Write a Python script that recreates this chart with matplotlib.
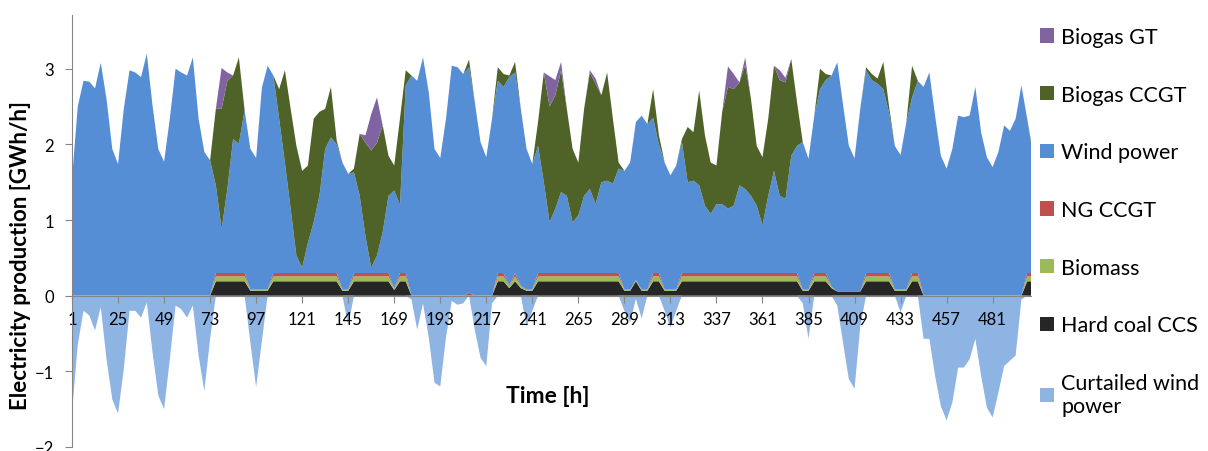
import numpy as np
import matplotlib.pyplot as plt

plt.rcParams['font.family'] = ['Lato', 'DejaVu Sans']

# hourly values read every 3 hours (one row = one day)
hours = np.arange(1, 504, 3)

hard_coal = [
    0, 0, 0, 0, 0, 0, 0, 0,
    0, 0, 0, 0, 0, 0, 0, 0,
    0, 0, 0, 0, 0, 0, 0, 0,
    0, .19, .19, .19, .19, .19, .19, .065,
    .065, .065, .065, .19, .19, .19, .19, .19,
    .19, .19, .19, .19, .19, .19, .19, .065,
    .065, .19, .19, .19, .19, .19, .19, .19,
    .075, .19, .19, 0, 0, 0, 0, 0,
    0, 0, 0, 0, 0, 0, 0, 0,
    0, 0, .19, .19, .1, .19, .1, .065,
    .065, .19, .19, .19, .19, .19, .19, .19,
    .19, .19, .19, .19, .19, .19, .19, .19,
    .065, .065, .19, .065, .065, .19, .19, .065,
    .065, .065, .19, .19, .19, .19, .19, .19,
    .19, .19, .19, .19, .19, .19, .19, .19,
    .19, .19, .19, .19, .19, .19, .19, .065,
    .065, .19, .19, .19, .1, .055, .055, .055,
    .055, .055, .19, .19, .19, .19, .19, .065,
    .065, .065, .19, .19, 0, 0, 0, 0,
    0, 0, 0, 0, 0, 0, 0, 0,
    0, 0, 0, 0, 0, 0, .19, .19,
]
biomass = [
    0, 0, 0, 0, 0, 0, 0, 0,
    0, 0, 0, 0, 0, 0, 0, 0,
    0, 0, 0, 0, 0, 0, 0, 0,
    0, .065, .065, .065, .065, .065, .065, .015,
    .015, .015, .015, .065, .065, .065, .065, .065,
    .065, .065, .065, .065, .065, .065, .065, .015,
    .015, .065, .065, .065, .065, .065, .065, .065,
    .015, .065, .065, 0, 0, 0, 0, 0,
    0, 0, 0, 0, 0, 0, 0, 0,
    0, 0, .065, .065, .03, .065, .03, .015,
    .015, .065, .065, .065, .065, .065, .065, .065,
    .065, .065, .065, .065, .065, .065, .065, .065,
    .015, .015, .015, .015, .015, .065, .065, .015,
    .015, .015, .065, .065, .065, .065, .065, .065,
    .065, .065, .065, .065, .065, .065, .065, .065,
    .065, .065, .065, .065, .065, .065, .065, .015,
    .015, .065, .065, .065, .02, 0, 0, 0,
    0, 0, .065, .065, .065, .065, .065, .015,
    .015, .015, .065, .065, 0, 0, 0, 0,
    0, 0, 0, 0, 0, 0, 0, 0,
    0, 0, 0, 0, 0, 0, .065, .065,
]
ng_ccgt = [
    0, 0, 0, 0, 0, 0, 0, 0,
    0, 0, 0, 0, 0, 0, 0, 0,
    0, 0, 0, 0, 0, 0, 0, 0,
    0, .045, .045, .045, .045, .045, .045, 0,
    0, 0, 0, .045, .045, .045, .045, .045,
    .045, .045, .045, .045, .045, .045, .045, 0,
    0, .045, .045, .045, .045, .045, .045, .045,
    0, .045, .045, 0, 0, 0, 0, 0,
    0, 0, 0, 0, 0, .04, 0, 0,
    0, 0, .045, .045, 0, .045, 0, 0,
    0, .045, .045, .045, .045, .045, .045, .045,
    .045, .045, .045, .045, .045, .045, .045, .045,
    0, 0, 0, 0, 0, .045, .045, 0,
    0, 0, .045, .045, .045, .045, .045, .045,
    .045, .045, .045, .045, .045, .045, .045, .045,
    .045, .045, .045, .045, .045, .045, .045, 0,
    0, .045, .045, .045, 0, 0, 0, 0,
    0, 0, .045, .045, .045, .045, .045, 0,
    0, 0, .045, .045, 0, 0, 0, 0,
    0, 0, 0, 0, 0, 0, 0, 0,
    0, 0, 0, 0, 0, 0, .045, .045,
]
wind = [
    1.54, 2.5, 2.84, 2.83, 2.74, 3.08, 2.6, 1.94,
    1.74, 2.47, 2.98, 2.95, 2.89, 3.2, 2.51, 1.94,
    1.77, 2.34, 3.0, 2.95, 2.91, 3.15, 2.34, 1.9,
    1.79, 1.16, 0.58, 1.11, 1.77, 1.71, 2.15, 1.86,
    1.74, 2.67, 2.96, 2.61, 2.04, 1.46, 0.85, 0.23,
    0.07, 0.4, 0.67, 1.02, 1.64, 1.79, 1.7, 1.68,
    1.53, 1.33, 1.02, 0.49, 0.07, 0.23, 0.54, 1.02,
    1.3, 0.9, 2.48, 2.91, 2.84, 3.15, 2.69, 1.94,
    1.82, 2.34, 3.04, 3.02, 2.93, 2.98, 2.56, 2.03,
    1.83, 2.34, 2.54, 2.46, 2.76, 2.65, 2.34, 1.86,
    1.66, 1.68, 1.2, 0.67, 0.85, 1.07, 1.02, 0.67,
    0.76, 1.02, 1.11, 0.91, 1.2, 1.22, 1.18, 1.38,
    1.57, 1.68, 2.09, 2.3, 2.19, 2.05, 1.7, 1.68,
    1.51, 1.64, 1.73, 1.2, 1.22, 1.16, 0.89, 0.78,
    0.91, 0.91, 0.85, 0.89, 1.16, 1.11, 1.02, 0.89,
    0.63, 1.02, 1.35, 1.02, 0.98, 1.55, 1.68, 1.95,
    1.73, 2.08, 2.43, 2.55, 2.79, 3.03, 2.47, 1.93,
    1.76, 2.42, 2.68, 2.55, 2.5, 2.43, 2.12, 1.9,
    1.78, 2.21, 2.32, 2.54, 2.76, 2.95, 2.38, 1.85,
    1.68, 1.94, 2.38, 2.36, 2.38, 2.76, 2.16, 1.83,
    1.7, 1.9, 2.25, 2.18, 2.34, 2.78, 2.04, 1.55,
]
biogas_ccgt = [
    0, 0, 0, 0, 0, 0, 0, 0,
    0, 0, 0, 0, 0, 0, 0, 0,
    0, 0, 0, 0, 0, 0, 0, 0,
    0, 1.01, 1.59, 1.43, 0.84, 1.14, 0, 0,
    0, 0, 0, 0, 0.39, 1.22, 1.32, 1.45,
    1.28, 1.02, 1.37, 1.11, 0.53, 0.67, 0.05, 0,
    0, 0.05, 0.82, 1.23, 1.55, 1.49, 1.41, 0.53,
    0.33, 1.14, 0.2, 0, 0, 0, 0, 0,
    0, 0, 0, 0, 0, 0.1, 0, 0,
    0, 0, 0.18, 0.17, 0.02, 0.14, 0, 0,
    0, 0.32, 1.45, 1.53, 1.5, 1.61, 1.15, 0.97,
    0.7, 1.15, 1.54, 1.59, 1.15, 1.43, 0.86, 0.08,
    0, 0, 0, 0, 0, 0.38, 0.12, 0,
    0, 0, 0.04, 0.73, 0.64, 1.25, 0.93, 0.68,
    0.51, 1.22, 1.61, 1.54, 1.36, 1.64, 1.28, 0.79,
    0.9, 1.02, 1.39, 1.53, 1.54, 1.28, 0.58, 0,
    0, 0, 0.27, 0.08, 0, 0, 0, 0,
    0, 0, 0.04, 0.08, 0.07, 0.36, 0.08, 0,
    0, 0, 0.42, 0, 0, 0, 0, 0,
    0, 0, 0, 0, 0, 0, 0, 0,
    0, 0, 0, 0, 0, 0, 0, 0.05,
]
biogas_gt = [
    0, 0, 0, 0, 0, 0, 0, 0,
    0, 0, 0, 0, 0, 0, 0, 0,
    0, 0, 0, 0, 0, 0, 0, 0,
    0, 0, 0.54, 0.11, 0, 0, 0, 0,
    0, 0, 0, 0, 0, 0, 0, 0,
    0, 0, 0, 0, 0, 0, 0, 0,
    0, 0, 0, 0.1, 0.48, 0.6, 0, 0,
    0, 0, 0, 0, 0, 0, 0, 0,
    0, 0, 0, 0, 0, 0, 0, 0,
    0, 0, 0, 0, 0, 0, 0, 0,
    0, 0, 0, 0.4, 0.2, 0.11, 0, 0,
    0, 0, 0.03, 0.07, 0, 0, 0, 0,
    0, 0, 0, 0, 0, 0, 0, 0,
    0, 0, 0, 0, 0, 0, 0, 0,
    0, 0, 0.27, 0.2, 0, 0.1, 0, 0,
    0, 0, 0, 0.13, 0.06, 0, 0, 0,
    0, 0, 0, 0, 0, 0, 0, 0,
    0, 0, 0, 0, 0, 0, 0, 0,
    0, 0, 0, 0, 0, 0, 0, 0,
    0, 0, 0, 0, 0, 0, 0, 0,
    0, 0, 0, 0, 0, 0, 0, 0,
]
curtailed = [
    -1.54, -0.65, -0.2, -0.26, -0.46, -0.15, -0.84, -1.37,
    -1.56, -0.97, -0.2, -0.2, -0.29, -0.09, -0.75, -1.32,
    -1.5, -0.84, -0.13, -0.18, -0.29, -0.13, -0.79, -1.26,
    -0.57, 0, 0, 0, 0, 0, 0, -0.62,
    -1.21, -0.6, 0, 0, 0, 0, 0, 0,
    0, 0, 0, 0, 0, 0, 0, 0,
    -0.4, 0, 0, 0, 0, 0, 0, 0,
    0, 0, 0, -0.05, -0.45, -0.1, -0.55, -1.15,
    -1.2, -0.55, -0.07, -0.12, -0.1, 0, -0.45, -0.82,
    -0.93, -0.1, 0, 0, 0, 0, 0, -0.4,
    -0.2, 0, 0, 0, 0, 0, 0, 0,
    0, 0, 0, 0, 0, 0, 0, 0,
    -0.2, -0.35, -0.04, -0.3, 0, 0, 0, -0.2,
    -0.42, -0.2, 0, 0, 0, 0, 0, 0,
    0, 0, 0, 0, 0, 0, 0, 0,
    0, 0, 0, 0, 0, 0, 0, -0.1,
    -0.57, 0, 0, 0, 0, -0.13, -0.62, -1.1,
    -1.23, -0.4, 0, 0, 0, 0, 0, 0,
    -0.22, 0, 0, 0, -0.57, -0.57, -1.06, -1.46,
    -1.65, -1.41, -0.95, -0.95, -0.84, -0.57, -1.06, -1.48,
    -1.61, -1.28, -0.93, -0.86, -0.79, -0.05, 0, 0,
]

names = ['Hard coal CCS', 'Biomass', 'NG CCGT', 'Wind power', 'Biogas CCGT', 'Biogas GT']
colors = ['#262626', '#9BBB59', '#C0504D', '#558ED5', '#4F6228', '#8064A2']

fig = plt.figure(figsize=(12.08, 4.52), dpi=100)
ax = fig.add_axes([72/1208, 4/452, 959/1208, 432/452])

polys = ax.stackplot(hours, hard_coal, biomass, ng_ccgt, wind, biogas_ccgt, biogas_gt,
                     colors=colors, labels=names, linewidth=0)
cur = ax.stackplot(hours, curtailed, colors=['#8EB4E3'], labels=['Curtailed wind\npower'], linewidth=0)

ax.set_xlim(1, 501)
ax.set_ylim(-2, 3.71)
ax.set_xticks(np.arange(1, 482, 24))
ax.set_yticks([-2, -1, 0, 1, 2, 3])

for s in ['top', 'right']:
    ax.spines[s].set_visible(False)
ax.spines['bottom'].set_position(('data', 0))
ax.spines['bottom'].set_color('#868686')
ax.spines['left'].set_color('#868686')
ax.tick_params(axis='both', color='#868686', length=5, labelsize=12)
ax.tick_params(axis='x', pad=6)
ax.tick_params(axis='y', pad=8)

ax.set_ylabel('Electricity production [GWh/h]', fontsize=16, fontweight='bold')
ax.yaxis.set_label_coords(-0.043, 0.446)
ax.set_xlabel('Time [h]', fontsize=16.5, fontweight='bold')
ax.xaxis.set_label_coords(0.496, 0.143)

handles = polys[::-1] + cur
labels = names[::-1] + ['Curtailed wind\npower']
fig.legend(handles, labels, loc='upper left', bbox_to_anchor=(1040/1208, 1 - 28/452),
           frameon=False, fontsize=15.5, labelspacing=1.75, handlelength=0.65,
           handleheight=0.65, handletextpad=0.33, borderpad=0, borderaxespad=0)

fig.savefig('out.png', dpi=100)
